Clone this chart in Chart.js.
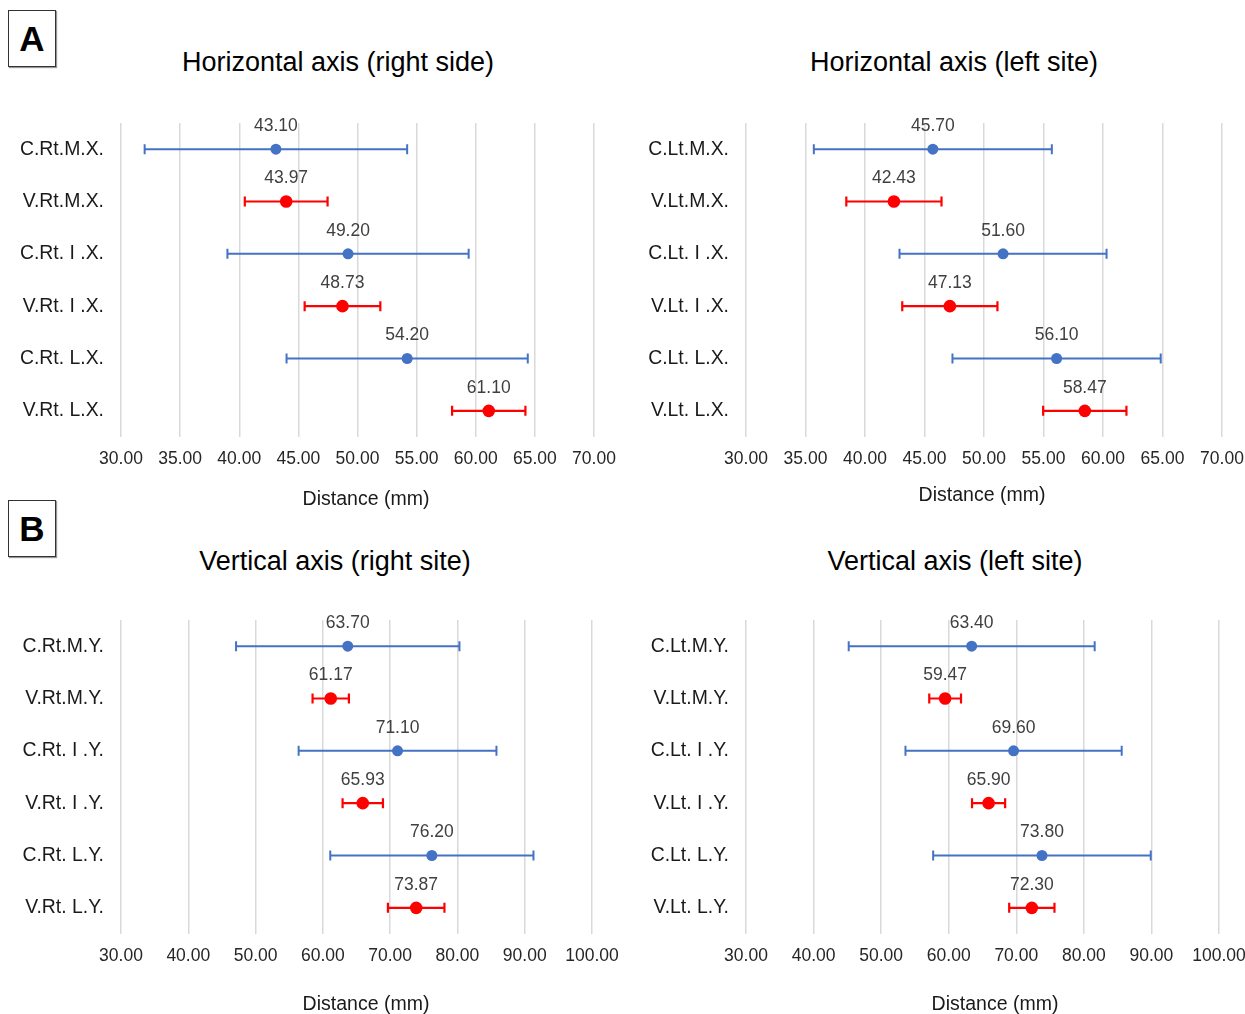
<!DOCTYPE html>
<html>
<head>
<meta charset="utf-8">
<script src="https://cdn.jsdelivr.net/npm/chart.js@4"></script>
<style>
  body { margin: 0; background: #fff; font-family: "Liberation Sans", Arial, sans-serif; }
  #wrap { position: relative; width: 1245px; height: 1014px; overflow: hidden; }
  canvas { position: absolute; }
  .ttl { position: absolute; width: 600px; text-align: center; font-size: 27px; line-height: 32px; color: #000; }
  .panel { position: absolute; left: 8px; width: 46px; height: 55px; border: 1.5px solid #333;
           box-shadow: 1px 1px 1px #999; font-weight: bold; font-size: 35px; line-height: 55px; text-align: center; }
</style>
</head>
<body>
<div id="wrap">
  <div class="panel" style="top:10px">A</div>
  <div class="panel" style="top:500px">B</div>
  <div class="ttl" style="left:38px; top:46px">Horizontal axis (right side)</div>
  <div class="ttl" style="left:654px; top:46px">Horizontal axis (left site)</div>
  <div class="ttl" style="left:35px; top:545px">Vertical axis (right site)</div>
  <div class="ttl" style="left:655px; top:545px">Vertical axis (left site)</div>
  <canvas id="c1"></canvas>
  <canvas id="c2"></canvas>
  <canvas id="c3"></canvas>
  <canvas id="c4"></canvas>
</div>
<script>
// categories
const catsRX = ['C.Rt.M.X.', 'V.Rt.M.X.', 'C.Rt. I .X.', 'V.Rt. I .X.', 'C.Rt. L.X.', 'V.Rt. L.X.'];
const catsLX = ['C.Lt.M.X.', 'V.Lt.M.X.', 'C.Lt. I .X.', 'V.Lt. I .X.', 'C.Lt. L.X.', 'V.Lt. L.X.'];
const catsRY = ['C.Rt.M.Y.', 'V.Rt.M.Y.', 'C.Rt. I .Y.', 'V.Rt. I .Y.', 'C.Rt. L.Y.', 'V.Rt. L.Y.'];
const catsLY = ['C.Lt.M.Y.', 'V.Lt.M.Y.', 'C.Lt. I .Y.', 'V.Lt. I .Y.', 'C.Lt. L.Y.', 'V.Lt. L.Y.'];

// means and error (+/-)
const meanRX = [43.10, 43.97, 49.20, 48.73, 54.20, 61.10];
const errRX  = [11.1, 3.5, 10.2, 3.2, 10.2, 3.1];
const meanLX = [45.70, 42.43, 51.60, 47.13, 56.10, 58.47];
const errLX  = [10.0, 4.0, 8.7, 4.0, 8.75, 3.5];
const meanRY = [63.70, 61.17, 71.10, 65.93, 76.20, 73.87];
const errRY  = [16.6, 2.7, 14.7, 3.0, 15.1, 4.2];
const meanLY = [63.40, 59.47, 69.60, 65.90, 73.80, 72.30];
const errLY  = [18.2, 2.35, 16.0, 2.45, 16.1, 3.35];

// x axis ranges
const ticksX = { min: 30, max: 70, step: 5 };
const ticksY = { min: 30, max: 100, step: 10 };

const FONT = '"Liberation Sans", Arial, sans-serif';
const BLUE = '#4472C4';
const RED = '#FF0000';

// error bars under the points, value labels and axis title on top
const errorBars = {
  id: 'errorBars',
  beforeDatasetsDraw(chart) {
    const ctx = chart.ctx, xs = chart.scales.x, ys = chart.scales.y;
    chart.data.datasets.forEach((ds) => {
      ds.data.forEach((v, i) => {
        if (v == null) return;
        const e = ds.errors[i];
        const x0 = xs.getPixelForValue(v - e), x1 = xs.getPixelForValue(v + e);
        const y = ys.getPixelForValue(i);
        const cap = ds.capSize;
        ctx.save();
        ctx.strokeStyle = ds.borderColor;
        ctx.lineWidth = ds.barWidth;
        ctx.beginPath();
        ctx.moveTo(x0, y); ctx.lineTo(x1, y);
        ctx.moveTo(x0, y - cap); ctx.lineTo(x0, y + cap);
        ctx.moveTo(x1, y - cap); ctx.lineTo(x1, y + cap);
        ctx.stroke();
        ctx.restore();
      });
    });
  },
  afterDatasetsDraw(chart) {
    const ctx = chart.ctx, xs = chart.scales.x, ys = chart.scales.y;
    ctx.save();
    ctx.font = '17.5px ' + FONT;
    ctx.fillStyle = '#404040';
    ctx.textAlign = 'center';
    ctx.textBaseline = 'middle';
    chart.data.datasets.forEach((ds) => {
      ds.data.forEach((v, i) => {
        if (v == null) return;
        ctx.fillText(v.toFixed(2), xs.getPixelForValue(v), ys.getPixelForValue(i) - 23);
      });
    });
    // axis title, a little off the plot centre as in the original
    const o = chart.options.plugins.errorBars;
    ctx.font = '19.5px ' + FONT;
    ctx.fillStyle = '#1a1a1a';
    ctx.fillText('Distance (mm)', (xs.left + xs.right) / 2 + o.shift, xs.bottom - o.fromBottom);
    ctx.restore();
  }
};

function makeChart(id, box, cats, means, errs, rng) {
  const cv = document.getElementById(id);
  cv.style.left = box.left + 'px';
  cv.style.top = box.top + 'px';
  cv.width = box.width; cv.height = box.height;
  const ctrl = means.map((v, i) => cats[i].startsWith('C') ? v : null);
  const vol = means.map((v, i) => cats[i].startsWith('V') ? v : null);
  return new Chart(cv, {
    type: 'line',
    data: {
      labels: cats,
      datasets: [
        { data: ctrl, errors: errs, borderColor: BLUE, backgroundColor: BLUE, pointRadius: 5.5,
          pointBorderWidth: 0, showLine: false, capSize: 5, barWidth: 2 },
        { data: vol, errors: errs, borderColor: RED, backgroundColor: RED, pointRadius: 6.3,
          pointBorderWidth: 0, showLine: false, capSize: 5, barWidth: 2.2 }
      ]
    },
    options: {
      indexAxis: 'y',
      responsive: false,
      animation: false,
      layout: { padding: { top: box.padTop, right: 40, left: 0, bottom: 0 } },
      plugins: {
        legend: { display: false }, tooltip: { enabled: false },
        errorBars: { shift: box.titleShift, fromBottom: box.titleUp }
      },
      scales: {
        x: {
          type: 'linear', min: rng.min, max: rng.max,
          afterFit: (s) => { s.height = box.axisH; },
          ticks: { stepSize: rng.step, color: '#262626', padding: 12, maxRotation: 0,
                   font: { family: FONT, size: 17.5 }, callback: (v) => v.toFixed(2) },
          grid: { color: '#d9d9d9', lineWidth: 1.5, drawTicks: false },
          border: { display: false }
        },
        y: {
          type: 'category', offset: true,
          afterFit: (s) => { s.width = box.axisW; },
          ticks: { color: '#1a1a1a', padding: 17, font: { family: FONT, size: 19.4 } },
          grid: { display: false, drawTicks: false },
          border: { display: false }
        }
      }
    },
    plugins: [errorBars]
  });
}

// canvas is 40px wider than the plot's right edge; the wrapper clips the overflow
makeChart('c1', { left: 0, top: 0, width: 634, height: 520, padTop: 123, axisW: 121, axisH: 83, titleShift: 8.5, titleUp: 20 },
  catsRX, meanRX, errRX, ticksX);
makeChart('c2', { left: 625, top: 0, width: 637, height: 520, padTop: 123, axisW: 121, axisH: 83, titleShift: -2, titleUp: 24 },
  catsLX, meanLX, errLX, ticksX);
makeChart('c3', { left: 0, top: 500, width: 632, height: 514, padTop: 120, axisW: 121, axisH: 80, titleShift: 9.5, titleUp: 9 },
  catsRY, meanRY, errRY, ticksY);
makeChart('c4', { left: 625, top: 500, width: 634, height: 514, padTop: 120, axisW: 121, axisH: 80, titleShift: 12.5, titleUp: 9 },
  catsLY, meanLY, errLY, ticksY);
</script>
</body>
</html>
